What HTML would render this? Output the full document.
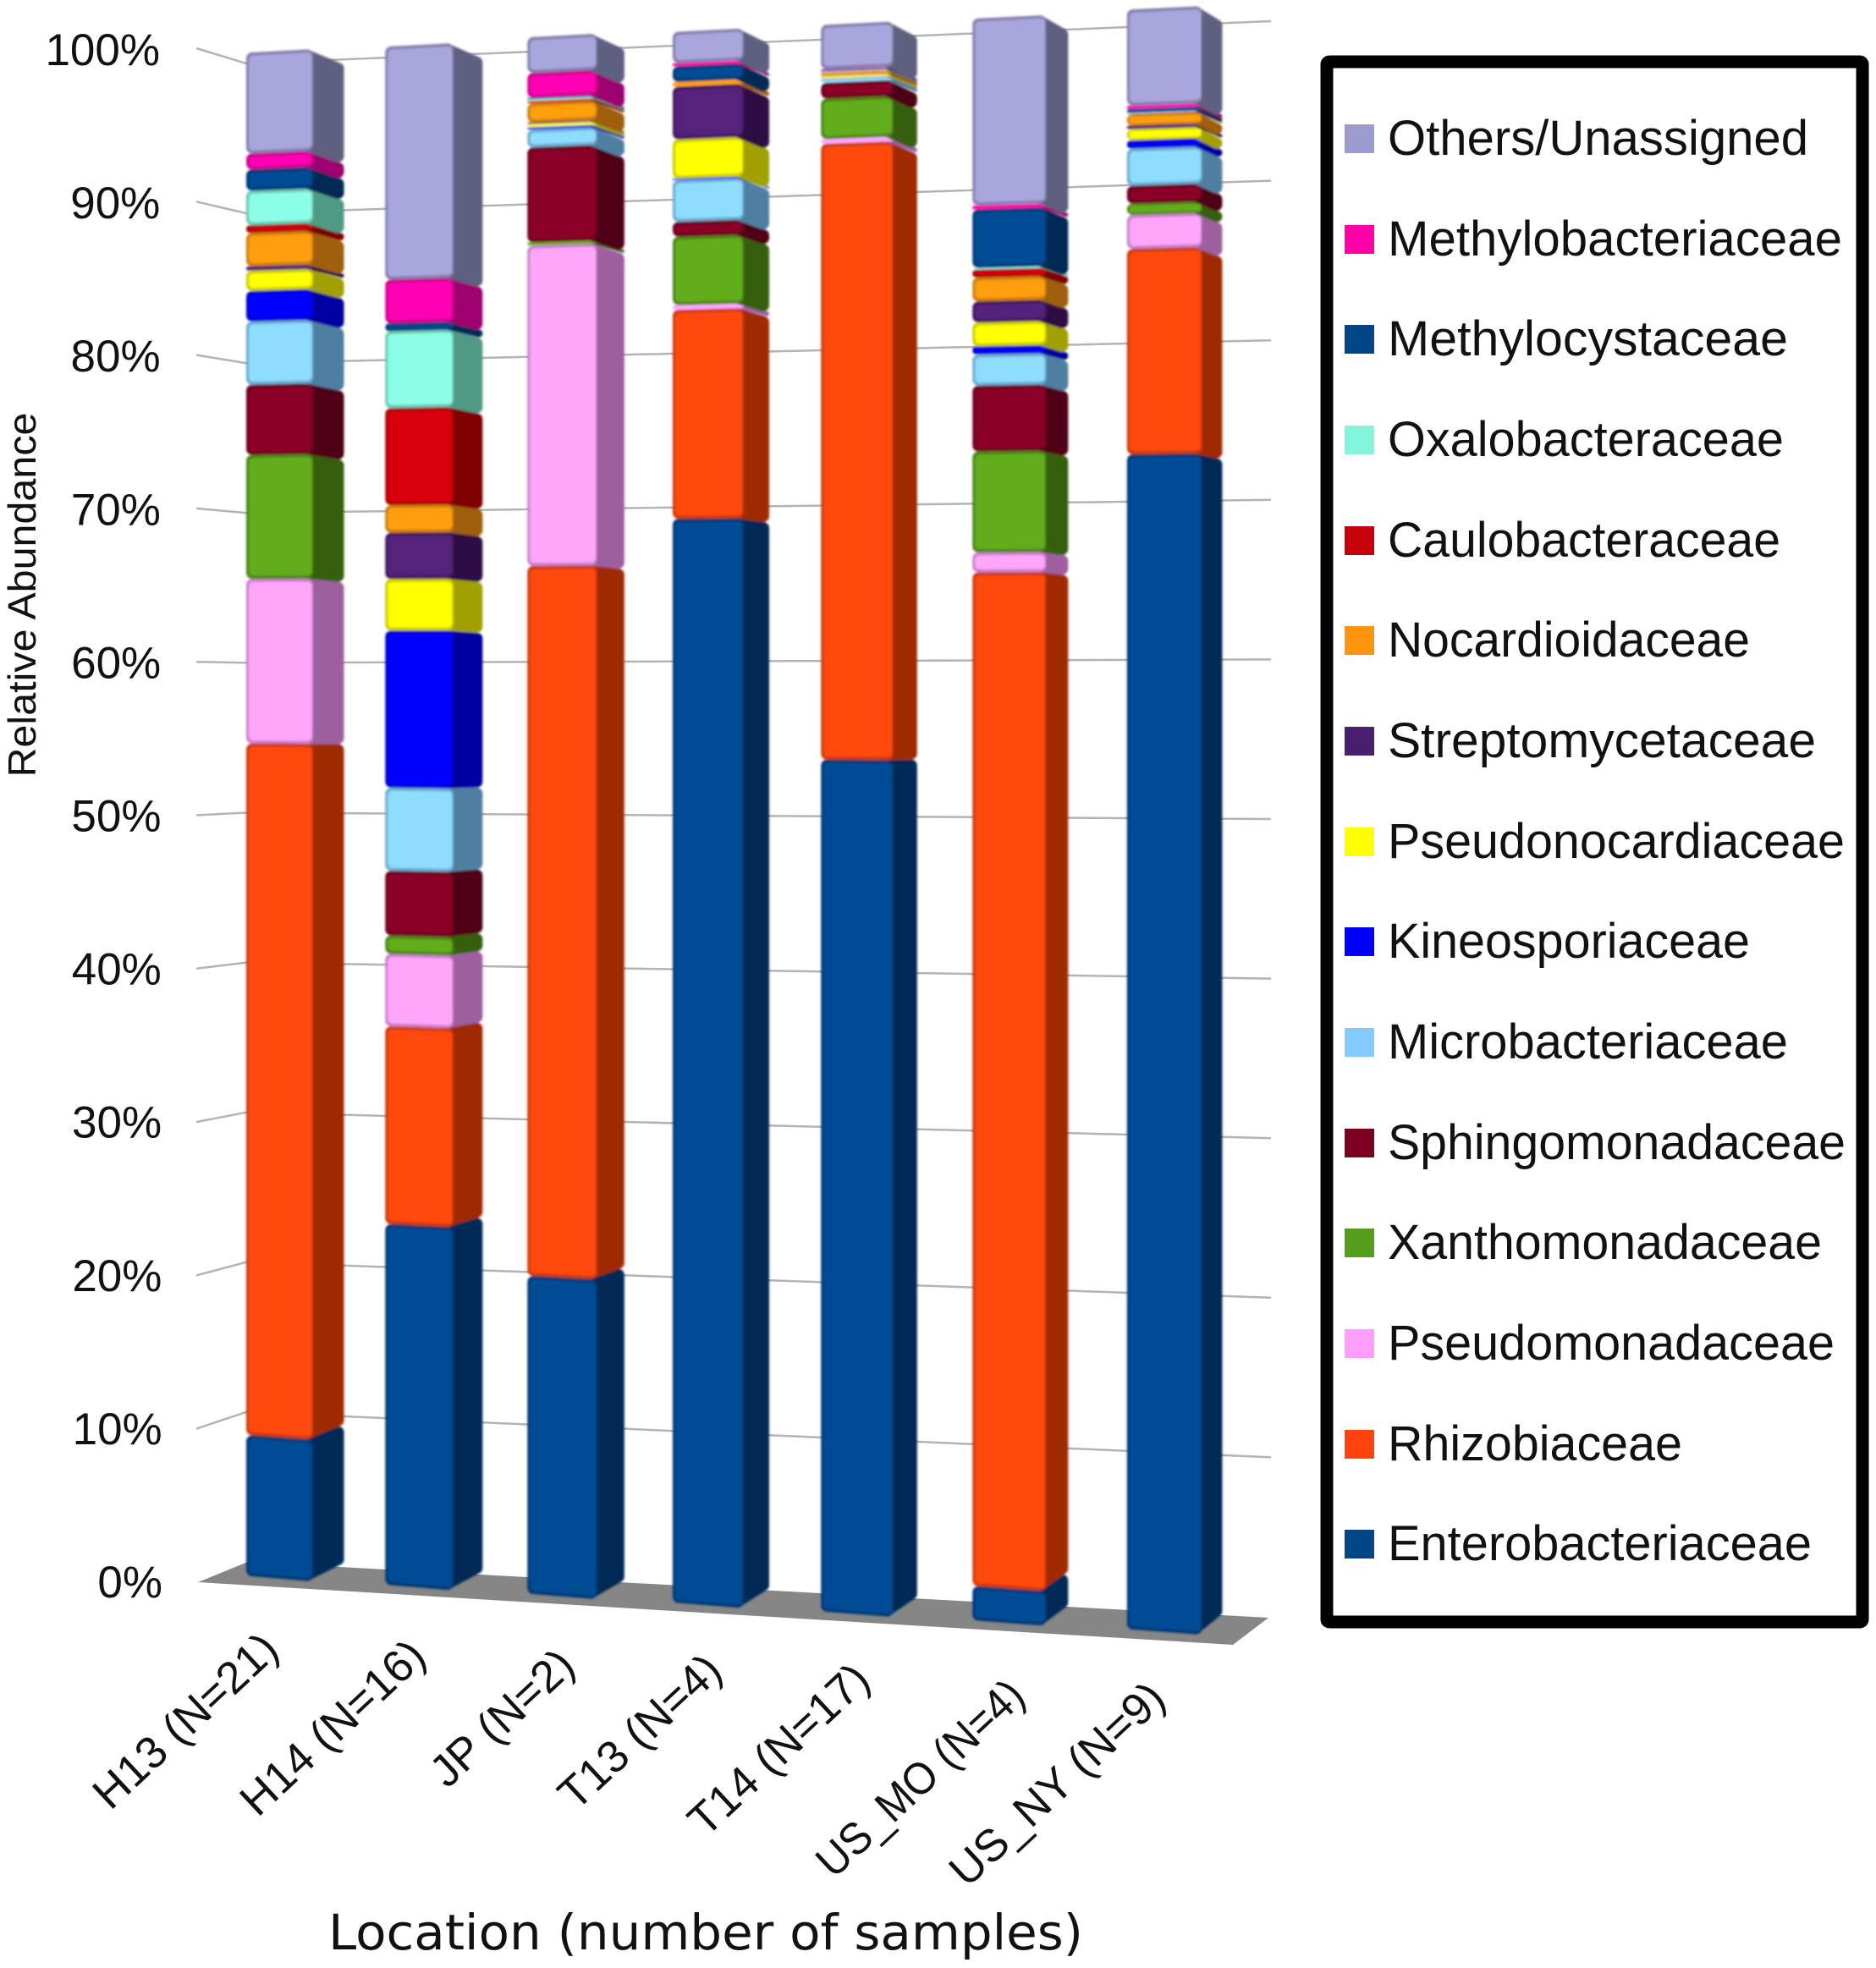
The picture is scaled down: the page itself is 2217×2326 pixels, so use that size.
<!DOCTYPE html>
<html lang="en">
<head>
<meta charset="utf-8">
<title>Relative Abundance by Location</title>
<style>
html,body{margin:0;padding:0;background:#fff;}
svg{display:block;}
text{font-family:"Liberation Sans",sans-serif;fill:#111;}
</style>
</head>
<body>
<svg id="chart" xmlns="http://www.w3.org/2000/svg" width="2217" height="2326" viewBox="0 0 2217 2326">
  <defs><filter id="soft" x="-5%" y="-5%" width="110%" height="110%"><feGaussianBlur stdDeviation="1.2"/></filter></defs>
  <rect width="2217" height="2326" fill="#fff"/>
  <g id="grid"></g>
  <polygon points="234,1870 293,1846 1499,1912 1457,1944" fill="#868686"/>
  <g id="bars" filter="url(#soft)"></g>
  <g id="yticks"></g>
  <g id="xticks"></g>
  <text transform="translate(42,703) rotate(-90)" text-anchor="middle" font-size="46" textLength="431" lengthAdjust="spacingAndGlyphs">Relative Abundance</text>
  <text x="834" y="2304" text-anchor="middle" font-size="58" textLength="892" lengthAdjust="spacingAndGlyphs" style="font-family:'DejaVu Sans',sans-serif">Location (number of samples)</text>

  <g>
    <rect x="1568" y="73" width="633" height="1844" rx="3" fill="#fff" stroke="#000" stroke-width="15"/>
    <g font-size="58">
      <g><rect x="1589" y="147" width="35" height="34" fill="#9d9bcf"/><text x="1640" y="183" textLength="497" lengthAdjust="spacingAndGlyphs">Others/Unassigned</text></g>
      <g><rect x="1589" y="266" width="35" height="34" fill="#ff00a8"/><text x="1640" y="302" textLength="537" lengthAdjust="spacingAndGlyphs">Methylobacteriaceae</text></g>
      <g><rect x="1589" y="384" width="35" height="34" fill="#004586"/><text x="1640" y="420" textLength="473" lengthAdjust="spacingAndGlyphs">Methylocystaceae</text></g>
      <g><rect x="1589" y="503" width="35" height="34" fill="#83f5dc"/><text x="1640" y="539" textLength="468" lengthAdjust="spacingAndGlyphs">Oxalobacteraceae</text></g>
      <g><rect x="1589" y="622" width="35" height="34" fill="#c5000b"/><text x="1640" y="658" textLength="464" lengthAdjust="spacingAndGlyphs">Caulobacteraceae</text></g>
      <g><rect x="1589" y="740" width="35" height="34" fill="#ff950e"/><text x="1640" y="776" textLength="428" lengthAdjust="spacingAndGlyphs">Nocardioidaceae</text></g>
      <g><rect x="1589" y="859" width="35" height="34" fill="#4b1f6f"/><text x="1640" y="895" textLength="506" lengthAdjust="spacingAndGlyphs">Streptomycetaceae</text></g>
      <g><rect x="1589" y="978" width="35" height="34" fill="#ffff00"/><text x="1640" y="1014" textLength="540" lengthAdjust="spacingAndGlyphs">Pseudonocardiaceae</text></g>
      <g><rect x="1589" y="1096" width="35" height="34" fill="#0000ff"/><text x="1640" y="1132" textLength="428" lengthAdjust="spacingAndGlyphs">Kineosporiaceae</text></g>
      <g><rect x="1589" y="1215" width="35" height="34" fill="#83caff"/><text x="1640" y="1251" textLength="473" lengthAdjust="spacingAndGlyphs">Microbacteriaceae</text></g>
      <g><rect x="1589" y="1334" width="35" height="34" fill="#7e0021"/><text x="1640" y="1370" textLength="541" lengthAdjust="spacingAndGlyphs">Sphingomonadaceae</text></g>
      <g><rect x="1589" y="1452" width="35" height="34" fill="#579d1c"/><text x="1640" y="1488" textLength="513" lengthAdjust="spacingAndGlyphs">Xanthomonadaceae</text></g>
      <g><rect x="1589" y="1571" width="35" height="34" fill="#ff9eff"/><text x="1640" y="1607" textLength="528" lengthAdjust="spacingAndGlyphs">Pseudomonadaceae</text></g>
      <g><rect x="1589" y="1690" width="35" height="34" fill="#ff420e"/><text x="1640" y="1726" textLength="348" lengthAdjust="spacingAndGlyphs">Rhizobiaceae</text></g>
      <g><rect x="1589" y="1808" width="35" height="34" fill="#004586"/><text x="1640" y="1844" textLength="501" lengthAdjust="spacingAndGlyphs">Enterobacteriaceae</text></g>
    </g>
  </g>
</svg>
<script>
const categories = ["H13 (N=21)", "H14 (N=16)", "JP (N=2)", "T13 (N=4)", "T14 (N=17)", "US_MO (N=4)", "US_NY (N=9)"];
const yTickValues = [0, 10, 20, 30, 40, 50, 60, 70, 80, 90, 100];
const yTickLabels = ["0%", "10%", "20%", "30%", "40%", "50%", "60%", "70%", "80%", "90%", "100%"];

const enterobacteriaceae = [9.25, 23.45, 20.45, 69.0, 53.7, 2.15, 72.6];
const rhizobiaceae = [45.4, 12.85, 45.65, 13.3, 38.8, 63.25, 12.7];
const pseudomonadaceae = [10.8, 4.7, 20.6, 0.3, 0.3, 1.25, 2.1];
const xanthomonadaceae = [8.14, 1.2, 0.2, 4.35, 2.55, 6.3, 0.7];
const sphingomonadaceae = [4.6, 4.2, 6.1, 0.95, 1.0, 4.1, 1.1];
const microbacteriaceae = [4.16, 5.4, 1.15, 2.65, 0.2, 1.95, 2.3];
const kineosporiaceae = [2.0, 10.2, 0.15, 0.1, 0.05, 0.5, 0.5];
const pseudonocardiaceae = [1.33, 3.35, 0.2, 2.5, 0.15, 1.5, 0.7];
const streptomycetaceae = [0.28, 3.0, 0.1, 3.35, 0.05, 1.3, 0.2];
const nocardioidaceae = [2.2, 1.8, 1.25, 0.3, 0.15, 1.5, 0.7];
const caulobacteraceae = [0.5, 6.3, 0.15, 0, 0.05, 0.5, 0.05];
const oxalobacteraceae = [2.27, 5.0, 0.1, 0, 0.05, 0.1, 0.05];
const methylocystaceae = [1.39, 0.5, 0.1, 1.0, 0.1, 3.65, 0.25];
const methylobacteriaceae = [1.05, 2.85, 1.6, 0.2, 0.05, 0.25, 0.2];
const othersUnassigned = [6.63, 15.14, 2.3, 2.0, 2.8, 11.67, 5.95];

const stackOrder = [
  ["enterobacteriaceae", enterobacteriaceae],
  ["rhizobiaceae", rhizobiaceae],
  ["pseudomonadaceae", pseudomonadaceae],
  ["xanthomonadaceae", xanthomonadaceae],
  ["sphingomonadaceae", sphingomonadaceae],
  ["microbacteriaceae", microbacteriaceae],
  ["kineosporiaceae", kineosporiaceae],
  ["pseudonocardiaceae", pseudonocardiaceae],
  ["streptomycetaceae", streptomycetaceae],
  ["nocardioidaceae", nocardioidaceae],
  ["caulobacteraceae", caulobacteraceae],
  ["oxalobacteraceae", oxalobacteraceae],
  ["methylocystaceae", methylocystaceae],
  ["methylobacteriaceae", methylobacteriaceae],
  ["others-unassigned", othersUnassigned]
];

const frontColors = {
  "enterobacteriaceae": "#004b96", "rhizobiaceae": "#ff4a0b", "pseudomonadaceae": "#ffa6fb",
  "xanthomonadaceae": "#62ad1f", "sphingomonadaceae": "#8b0028", "microbacteriaceae": "#8edcff",
  "kineosporiaceae": "#0000ff", "pseudonocardiaceae": "#ffff00", "streptomycetaceae": "#55217b",
  "nocardioidaceae": "#ff9f10", "caulobacteraceae": "#d9000d", "oxalobacteraceae": "#8cffe6",
  "methylocystaceae": "#004b96", "methylobacteriaceae": "#ff00b4", "others-unassigned": "#a9a6dd"
};
const sideColors = {
  "enterobacteriaceae": "#002a55", "rhizobiaceae": "#a02a06", "pseudomonadaceae": "#9d5e9d",
  "xanthomonadaceae": "#355f10", "sphingomonadaceae": "#4f0015", "microbacteriaceae": "#4f7fa0",
  "kineosporiaceae": "#0000a0", "pseudonocardiaceae": "#a0a000", "streptomycetaceae": "#2f1045",
  "nocardioidaceae": "#9f5f08", "caulobacteraceae": "#7f0000", "oxalobacteraceae": "#4f9a84",
  "methylocystaceae": "#002a55", "methylobacteriaceae": "#9e0070", "others-unassigned": "#5e5e80"
};

const NS = "http://www.w3.org/2000/svg";

// Perspective axis functions: bar index -> horizontal position
function frontLeftX(i) { return 291 + 162.5 * i + 1.83 * i * i; }
function frontRightX(i) { return frontLeftX(i) + 79 + 1.6 * i; }
function sideRightX(i) { return frontRightX(i) + 36.5 - 2.1 * i; }

// value axis: percent -> y along each vertical edge of a bar
function lerp(a, b, t) { return a + (b - a) * t; }
function frontLeftY(i, v) { return lerp(1863 + 10.5 * i, 62 - 8.17 * i, v / 100); }
function frontRightY(i, v) { return lerp(1868.5 + 10.5 * i, 58.5 - 8.17 * i, v / 100); }
function sideRightY(i, v) { return lerp(1850 + 10.2 * i, 74 - 8.2 * i, v / 100); }

// Wall axis functions for gridlines
function wallLeftY(v) { return 1870 - 18.13 * v; }
function wallMidY(v) { return 1846 - 17.71 * v; }
function wallRightY(v) { return 1911 - 18.86 * v; }
function tickBaselineY(v) { return 1888 - 18.11 * v; }
function tickRightX(v) { return 192 - 0.03 * v; }

function poly(points, fill, stroke, strokeWidth) {
  const p = document.createElementNS(NS, "polygon");
  p.setAttribute("points", points.map(function (q) { return q[0].toFixed(1) + "," + q[1].toFixed(1); }).join(" "));
  p.setAttribute("fill", fill);
  p.setAttribute("stroke", stroke);
  p.setAttribute("stroke-width", strokeWidth);
  p.setAttribute("stroke-linejoin", "round");
  return p;
}

function mix(a, b, t) {
  const pa = parseInt(a.slice(1), 16), pb = parseInt(b.slice(1), 16);
  const c = [16, 8, 0].map(function (s) {
    return Math.round(lerp((pa >> s) & 255, (pb >> s) & 255, t));
  });
  return "rgb(" + c.join(",") + ")";
}

// Gridlines
const gridGroup = document.getElementById("grid");
yTickValues.forEach(function (v) {
  if (v === 0) return;
  const line = document.createElementNS(NS, "polyline");
  
  
  line.setAttribute("points", "232," + wallLeftY(v) + " 291," + wallMidY(v) + " 1502," + wallRightY(v));
  line.setAttribute("fill", "none");
  line.setAttribute("stroke", "#b4b4b4");
  line.setAttribute("stroke-width", "2.5");
  gridGroup.appendChild(line);
});

// Y tick labels
const yTickGroup = document.getElementById("yticks");
yTickValues.forEach(function (v, k) {
  const t = document.createElementNS(NS, "text");
  
  
  t.setAttribute("x", tickRightX(v));
  t.setAttribute("y", tickBaselineY(v));
  t.setAttribute("text-anchor", "end");
  t.setAttribute("font-size", "53");
  t.textContent = yTickLabels[k];
  yTickGroup.appendChild(t);
});

// X tick labels: rotated, right end just below the bar
const xTickGroup = document.getElementById("xticks");
function xLabelEnd(i) {
  const ends = [[332, 1953], [506, 1961], [682, 1972], [856, 1978], [1031, 1989], [1214, 2008], [1380, 2011]];
  return ends[i];
}
categories.forEach(function (name, i) {
  const t = document.createElementNS(NS, "text");
  const end = xLabelEnd(i);
  
  
  t.setAttribute("text-anchor", "end");
  t.setAttribute("font-size", "53");
  t.setAttribute("transform", "translate(" + end[0] + "," + end[1] + ") rotate(-43)");
  t.textContent = name;
  if (name.indexOf("US_MO") === 0) {
    t.setAttribute("textLength", "313");
    t.setAttribute("lengthAdjust", "spacingAndGlyphs");
  }
  xTickGroup.appendChild(t);
});

// Bars
const barsGroup = document.getElementById("bars");
categories.forEach(function (cat, i) {
  const barGroup = document.createElementNS(NS, "g");
  
  
  let cum = 0;
  stackOrder.forEach(function (entry) {
    const key = entry[0];
    const value = entry[1][i];
    if (!(value > 0)) return;
    const lo = cum, hi = cum + value;
    cum = hi;
    const xl = frontLeftX(i), xr = frontRightX(i), xs = sideRightX(i);
    const yTL = frontLeftY(i, hi), yBL = frontLeftY(i, lo);
    const yTR = frontRightY(i, hi), yBR = frontRightY(i, lo);
    const ySideT = sideRightY(i, hi), ySideB = sideRightY(i, lo);
    const h = yBL - yTL;
    const r = Math.max(0.4, Math.min(7, h / 2 - 0.2));
    const front = frontColors[key], side = sideColors[key];

    const seg = document.createElementNS(NS, "g");
    
    

    const sidePoly = poly([
      [xr - 8, yTR + r], [xs - r, ySideT + r], [xs - r, ySideB - r], [xr - 8, yBR - r]
    ], side, side, 2 * r);
    
    
    seg.appendChild(sidePoly);

    const edgeColor = h > 8 ? mix(front, side, 0.55) : front;
    const frontPoly = poly([
      [xl + r, yTL + r], [xr - r, yTR + r], [xr - r, yBR - r], [xl + r, yBL - r]
    ], edgeColor, edgeColor, 2 * r);
    
    
    seg.appendChild(frontPoly);

    if (h > 14) {
      const ir = Math.min(5, h / 2 - 3);
      const inner = poly([
        [xl + 3 + ir, yTL + 3.5 + ir], [xr - 1.5 - ir, yTR + 3.5 + ir],
        [xr - 1.5 - ir, yBR - 3.5 - ir], [xl + 3 + ir, yBL - 3.5 - ir]
      ], front, front, 2 * ir);
      
      
      seg.appendChild(inner);
    } else if (h > 8) {
      const thin = poly([
        [xl + 3, yTL + 2.5], [xr - 1.5, yTR + 2.5], [xr - 1.5, yBR - 2.5], [xl + 3, yBL - 2.5]
      ], front, "none", 0);
      
      
      seg.appendChild(thin);
    }
    barGroup.appendChild(seg);
  });
  barsGroup.appendChild(barGroup);
});
</script>
</body>
</html>
